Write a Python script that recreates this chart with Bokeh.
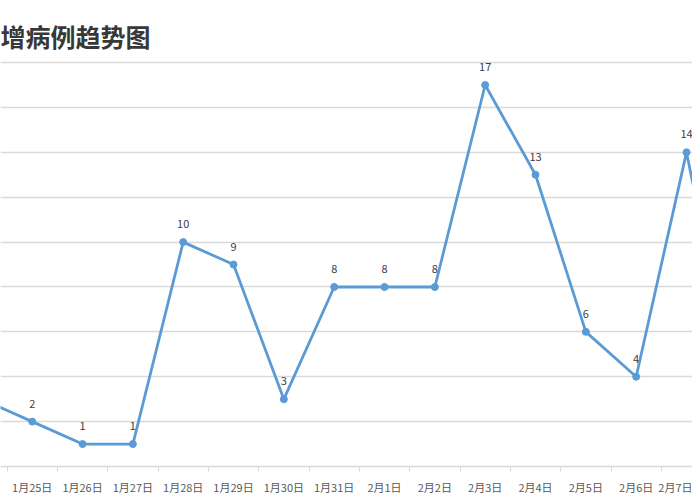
from bokeh.plotting import figure
from bokeh.models import FixedTicker, Range1d, Label, ColumnDataSource, Grid
from bokeh.core.properties import value
from bokeh.embed import file_html
from bokeh.resources import INLINE

title_text = "增病例趋势图"
dates = ["1月24日", "1月25日", "1月26日", "1月27日", "1月28日", "1月29日",
         "1月30日", "1月31日", "2月1日", "2月2日", "2月3日", "2月4日",
         "2月5日", "2月6日", "2月7日", "2月8日"]
cases = [3, 2, 1, 1, 10, 9, 3, 8, 8, 8, 17, 13, 6, 4, 14, 3]
y_ticks = [0, 2, 4, 6, 8, 10, 12, 14, 16, 18]

idx = list(range(len(dates)))
src = ColumnDataSource(dict(x=idx, y=cases, t=[str(c) for c in cases]))

BLUE = "#5B9BD5"
GRID = "#d9d9d9"
FONT = "Noto Sans CJK SC"

# frame: 692 px wide (50.33 px per category), 466 px tall (22.44 px per unit)
p = figure(frame_width=692, frame_height=466,
           min_border_top=0, min_border_bottom=26,
           min_border_left=0, min_border_right=0,
           x_range=Range1d(0.37, 0.37 + 692 / 50.33),
           y_range=Range1d(0, 466 / 22.44),
           y_axis_location=None,
           output_backend="svg", toolbar_location=None)
p.outline_line_color = None
p.background_fill_color = "white"
p.border_fill_color = "white"
for g in p.xgrid + p.ygrid:
    g.visible = False

p.add_layout(Grid(dimension=1, ticker=FixedTicker(ticks=y_ticks),
                  grid_line_color=GRID, grid_line_width=1.3))

ax = p.xaxis[0]
ax.ticker = FixedTicker(ticks=idx, minor_ticks=[i + 0.5 for i in range(-1, len(dates))])
ax.major_label_overrides = {i: d for i, d in enumerate(dates)}
ax.major_tick_line_color = None
ax.major_tick_out = 0
ax.major_tick_in = 0
ax.minor_tick_out = 5
ax.minor_tick_in = 0
ax.minor_tick_line_color = GRID
ax.axis_line_color = GRID
ax.axis_line_width = 1.3
ax.major_label_standoff = 7
ax.major_label_text_font = FONT
ax.major_label_text_font_size = "11px"
ax.major_label_text_color = "#595959"

p.line("x", "y", source=src, line_color=BLUE, line_width=2.8)
p.scatter("x", "y", source=src, size=7, fill_color=BLUE, line_color=BLUE)
p.text("x", "y", text="t", source=src, y_offset=-18,
       text_align="center", text_baseline="middle",
       text_font=value(FONT), text_font_size="11px", text_color="#404040")

p.add_layout(Label(x=0.37, y=(466 - 35) / 22.44, text=title_text,
                   text_font=FONT, text_font_size="25px", text_font_style="bold",
                   text_color="#383838", text_baseline="middle",
                   text_align="left"))

open("out.html", "w").write(file_html(p, INLINE))
